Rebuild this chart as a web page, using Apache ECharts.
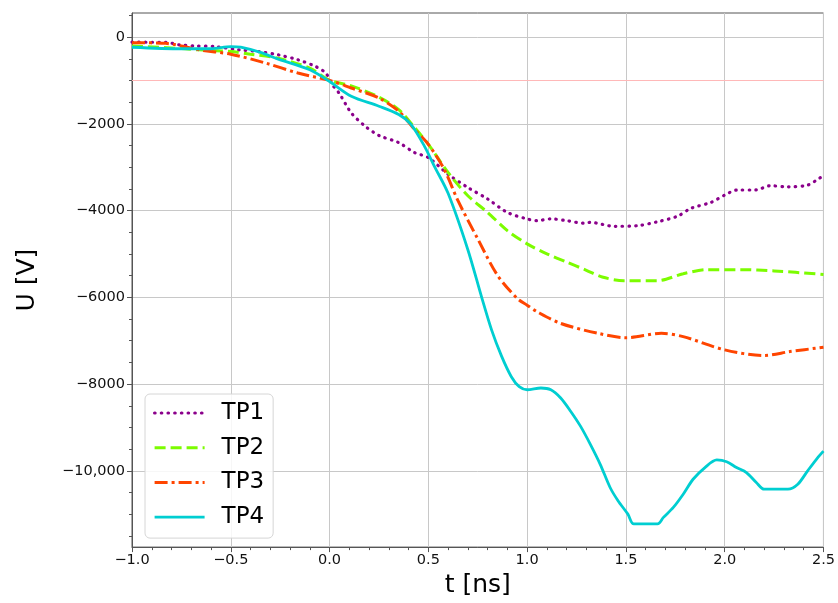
<!DOCTYPE html>
<html>
<head>
<meta charset="utf-8">
<script src="https://cdn.jsdelivr.net/npm/echarts@6/dist/echarts.min.js"></script>
<style>
html,body{margin:0;padding:0;background:#fff;}
#chart{width:838px;height:603px;}
</style>
</head>
<body>
<div id="chart"></div>
<script>
// ---- data (t in ns, U in V) ----
const seriesNames = ['TP1', 'TP2', 'TP3', 'TP4'];

const tp1T = [-1.0, -0.9, -0.83, -0.76, -0.68, -0.58, -0.46, -0.36, -0.26, -0.16, -0.07, -0.02, 0.02, 0.05, 0.11, 0.18, 0.25, 0.35, 0.43, 0.5, 0.6, 0.7, 0.8, 0.9, 1.0, 1.05, 1.12, 1.2, 1.29, 1.32, 1.44, 1.56, 1.66, 1.76, 1.83, 1.93, 2.0, 2.06, 2.16, 2.23, 2.32, 2.42, 2.48, 2.5];
const tp1V = [-110, -115, -115, -175, -200, -215, -290, -330, -405, -520, -675, -825, -1130, -1300, -1745, -2050, -2265, -2430, -2660, -2775, -3160, -3465, -3730, -4040, -4190, -4230, -4190, -4230, -4290, -4270, -4360, -4345, -4255, -4130, -3945, -3810, -3640, -3525, -3520, -3425, -3450, -3410, -3250, -3200];

const tp2T = [-1.0, -0.75, -0.66, -0.5, -0.4, -0.26, -0.1, 0.0, 0.11, 0.25, 0.35, 0.43, 0.5, 0.6, 0.7, 0.8, 0.9, 1.0, 1.1, 1.2, 1.3, 1.38, 1.49, 1.66, 1.79, 1.91, 2.08, 2.25, 2.5];
const tp2V = [-200, -260, -290, -330, -390, -485, -710, -990, -1120, -1380, -1670, -2080, -2470, -3120, -3655, -4040, -4460, -4765, -4995, -5185, -5375, -5530, -5615, -5615, -5455, -5360, -5360, -5390, -5470];

const tp3T = [-1.0, -0.83, -0.66, -0.5, -0.32, -0.16, 0.0, 0.11, 0.25, 0.35, 0.43, 0.5, 0.58, 0.65, 0.75, 0.85, 0.95, 1.0, 1.05, 1.17, 1.36, 1.5, 1.68, 1.79, 2.0, 2.2, 2.33, 2.5];
const tp3V = [-125, -140, -290, -390, -600, -825, -995, -1170, -1400, -1705, -2125, -2470, -3045, -3770, -4650, -5490, -6025, -6180, -6330, -6600, -6830, -6930, -6830, -6905, -7210, -7340, -7250, -7150];

const tp4T = [-1.0, -0.75, -0.6, -0.5, -0.45, -0.35, -0.26, -0.1, 0.0, 0.11, 0.25, 0.35, 0.41, 0.48, 0.53, 0.6, 0.7, 0.77, 0.82, 0.87, 0.92, 0.96, 1.0, 1.07, 1.12, 1.17, 1.22, 1.27, 1.32, 1.37, 1.42, 1.46, 1.51, 1.54, 1.66, 1.69, 1.74, 1.79, 1.84, 1.9, 1.96, 2.01, 2.06, 2.11, 2.16, 2.2, 2.32, 2.37, 2.42, 2.47, 2.5];
const tp4V = [-230, -265, -265, -215, -230, -350, -505, -750, -1020, -1360, -1590, -1780, -2000, -2510, -2970, -3600, -4900, -6000, -6750, -7350, -7830, -8060, -8130, -8090, -8130, -8320, -8625, -8970, -9390, -9850, -10385, -10690, -11000, -11225, -11225, -11075, -10845, -10540, -10195, -9925, -9750, -9790, -9925, -10040, -10270, -10425, -10425, -10310, -10000, -9700, -9545];

const thresholdValue = -1000;

const xTicks = [-1.0, -0.5, 0.0, 0.5, 1.0, 1.5, 2.0, 2.5];
const yMajorTicks = [-10000, -8000, -6000, -4000, -2000, 0];
const yMinorTicks = [-11500, -11000, -10500, -9500, -9000, -8500, -7500, -7000, -6500, -5500, -5000, -4500, -3500, -3000, -2500, -1500, -1000, -500, 500];

// ---- styles ----
const FONT = 'DejaVu Sans';
const colors = ['#8b008b', '#7cfc00', '#ff4500', '#00ced1'];
const lineTypes = [
  { type: [0.5, 6.2], width: 3.2, cap: 'round' },
  { type: [11, 5], width: 3, cap: 'butt' },
  { type: [13, 4, 3, 4], width: 3, cap: 'butt' },
  { type: 'solid', width: 2.8, cap: 'butt' }
];

const zip = (a, b) => a.map((t, i) => [t, b[i]]);
const allT = [tp1T, tp2T, tp3T, tp4T];
const allV = [tp1V, tp2V, tp3V, tp4V];

const minus = '\u2212';
function fmtX(v) {
  return (v < 0 ? minus : '') + Math.abs(v).toFixed(1);
}
function fmtY(v) {
  if (v === 0) return '0';
  const a = Math.abs(v);
  let s = String(a);
  if (a >= 10000) s = s.replace(/\B(?=(\d{3})+(?!\d))/g, ',');
  return (v < 0 ? minus : '') + s;
}

const yMin = -11760, yMax = 560;

const series = seriesNames.map((name, i) => {
  const s = {
    name: name,
    type: 'line',
    data: zip(allT[i], allV[i]),
    symbol: 'none',
    showSymbol: false,
    smooth: 0.3,
    color: colors[i],
    itemStyle: { color: colors[i] },
    lineStyle: {
      color: colors[i],
      width: lineTypes[i].width,
      type: lineTypes[i].type,
      cap: lineTypes[i].cap
    },
    z: 3 + i
  };
  if (i === 0) {
    s.markLine = {
      silent: true,
      symbol: 'none',
      label: { show: false },
      lineStyle: { color: '#ffb8b8', width: 1, type: 'solid' },
      data: [{ yAxis: thresholdValue }],
      z: 1
    };
  }
  return s;
});

const chart = echarts.init(document.getElementById('chart'), null, { renderer: 'canvas' });
chart.setOption({
  animation: false,
  backgroundColor: '#fff',
  textStyle: { fontFamily: FONT },
  grid: {
    left: 132, right: 11, top: 13, bottom: 51,
    show: true, borderColor: '#555', borderWidth: 1, backgroundColor: 'transparent'
  },
  legend: {
    orient: 'vertical',
    left: 145, top: 394,
    padding: [6, 9, 8, 8],
    itemWidth: 50, itemHeight: 26, itemGap: 8.7,
    backgroundColor: 'rgba(255,255,255,0.85)',
    borderColor: '#d6d6d6', borderWidth: 1, borderRadius: 5,
    textStyle: { fontFamily: FONT, fontSize: 23, color: '#000', padding: [0, 0, 0, 12], lineHeight: 26 },
    itemStyle: { opacity: 0, borderWidth: 0 },
    lineStyle: { width: 'inherit', type: 'inherit', cap: 'inherit', opacity: 1 },
    data: seriesNames
  },
  xAxis: {
    type: 'value',
    min: -1.0, max: 2.5, interval: 0.5,
    name: 't [ns]', nameLocation: 'middle', nameGap: 21,
    nameTextStyle: { fontFamily: FONT, fontSize: 25, color: '#000' },
    axisLine: { show: true, onZero: false, lineStyle: { color: '#555', width: 1 } },
    axisTick: { show: true, length: 5, lineStyle: { color: '#555' } },
    minorTick: { show: true, splitNumber: 5, length: 3, lineStyle: { color: '#555' } },
    axisLabel: { fontFamily: FONT, fontSize: 14.5, color: '#111', margin: 6, formatter: fmtX },
    splitLine: { show: true, lineStyle: { color: '#c8c8c8', width: 1 } }
  },
  yAxis: [{
    type: 'value',
    position: 'left',
    min: yMin, max: yMax, splitNumber: 6,
    name: 'U [V]', nameLocation: 'middle', nameGap: 92, nameRotate: 90,
    nameTextStyle: { fontFamily: FONT, fontSize: 25, color: '#000' },
    axisLine: { show: true, onZero: false, lineStyle: { color: '#555', width: 1 } },
    axisTick: { show: true, length: 5, lineStyle: { color: '#555' }, customValues: yMajorTicks },
    axisLabel: { fontFamily: FONT, fontSize: 14.5, color: '#111', margin: 7, formatter: fmtY, customValues: yMajorTicks },
    splitLine: { show: true, lineStyle: { color: '#c8c8c8', width: 1 } }
  }, {
    type: 'value',
    position: 'left',
    offset: 0,
    min: yMin, max: yMax,
    axisLine: { show: false, onZero: false },
    axisTick: { show: true, length: 3, lineStyle: { color: '#555' }, customValues: yMinorTicks },
    axisLabel: { show: false },
    splitLine: { show: false }
  }],
  series: series
});
</script>
</body>
</html>
